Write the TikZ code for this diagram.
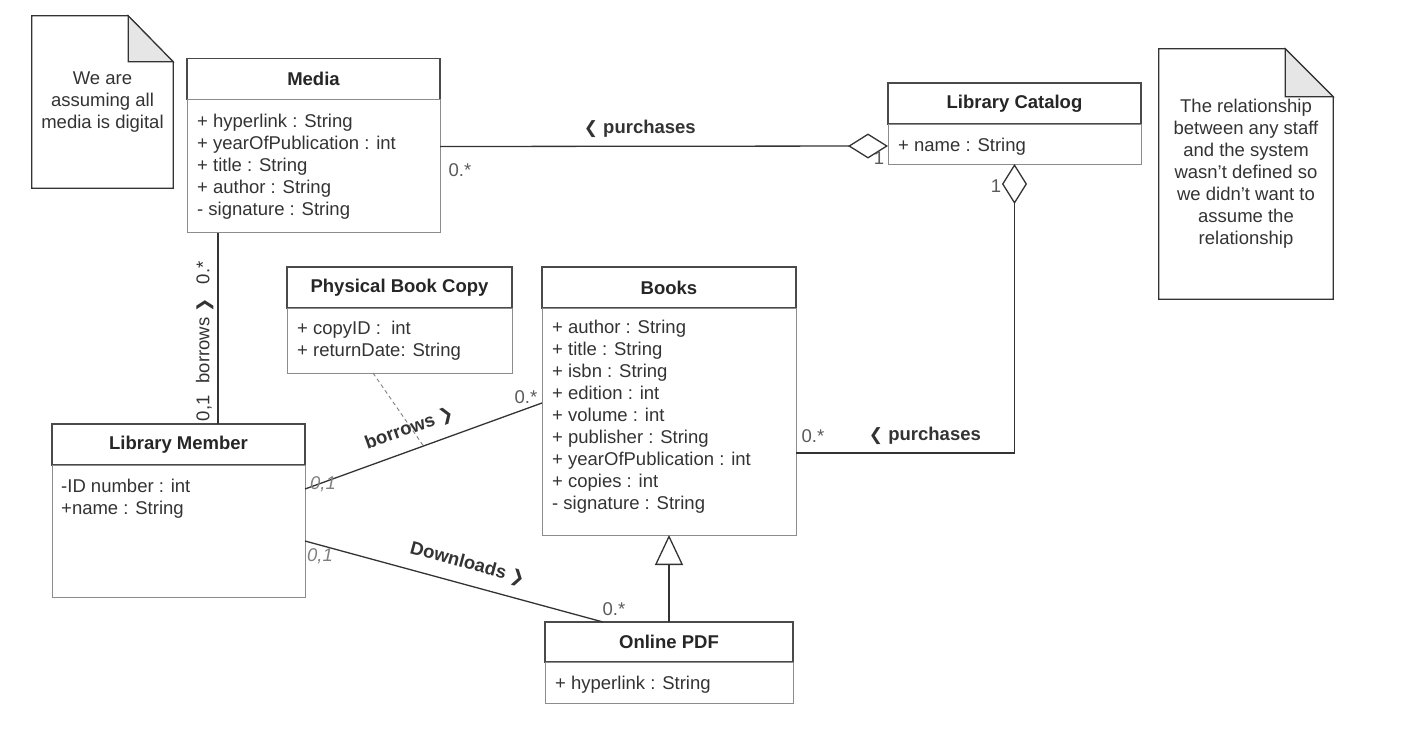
\documentclass[tikz,border=0pt]{standalone}
\usepackage{fontspec}
\setmainfont{Liberation Sans}
\newfontfamily\chevfont{DejaVu Sans}
\usetikzlibrary{positioning, arrows.meta}
\definecolor{ink}{HTML}{333333}
\definecolor{frame}{HTML}{4a4a4a}
\definecolor{framelt}{HTML}{8c8c8c}
\definecolor{multc}{HTML}{5a5a5a}
\definecolor{foldc}{HTML}{e6e6e6}
\newcommand{\basefont}{\fontsize{18.5}{22}\selectfont}
\newcommand{\chevl}{{\chevfont\fontsize{17}{22}\selectfont ❮}}
\newcommand{\chevr}{{\chevfont\fontsize{17}{22}\selectfont ❯}}
\tikzset{
  cls/.style={draw=frame, line width=1.2pt, rectangle, fill=white, font=\basefont\bfseries, text=black!85,
    minimum height=41pt, inner sep=0pt, outer sep=0pt},
  body/.style={draw=framelt, line width=1pt, rectangle, inner sep=0pt, outer sep=0pt},
  attr/.style={align=left, inner sep=0pt, text=ink, font=\basefont},
  assoc/.style={draw=ink, line width=1.3pt},
  agg/.style={assoc, -{Diamond[open, length=40pt, width=25pt]}},
  gen/.style={assoc, -{Triangle[open, length=30pt, width=28pt]}},
  link/.style={draw=gray, line width=0.9pt, dash pattern=on 4pt off 3pt},
  lbl/.style={font=\basefont\bfseries, text=ink, inner sep=2pt},
  vlbl/.style={font=\basefont, text=ink, inner sep=2pt},
  mult/.style={font=\basefont, text=multc, inner sep=0pt},
  optmult/.style={font=\basefont\itshape, text=gray, inner sep=0pt},
  notebox/.style={draw=ink, line width=1.2pt},
  notefold/.style={draw=ink, line width=1.2pt, fill=foldc},
  notetext/.style={align=center, text=ink, font=\basefont, inner sep=0pt},
}

\begin{document}
\begin{tikzpicture}[x=1pt, y=-1pt]
  \useasboundingbox (0,0) rectangle (1409,739);
  % notes
  \node[notetext, minimum width=141pt, minimum height=172pt] (note-media) at (102.5,102) {We are\\assuming all\\media is digital};
  \draw[notebox] (note-media.south west) |- ([xshift=-45pt]note-media.north east) -- ([yshift=-46pt]note-media.north east) -- (note-media.south east) -- cycle;
  \draw[notefold] ([xshift=-45pt]note-media.north east) |- ([yshift=-46pt]note-media.north east) -- cycle;
  \node[notetext, minimum width=174pt, minimum height=250pt] (note-staff) at (1246,174) {The relationship\\between any staff\\and the system\\wasn't defined so\\we didn't want to\\assume the\\relationship};
  \draw[notebox] (note-staff.south west) |- ([xshift=-48pt]note-staff.north east) -- ([yshift=-48pt]note-staff.north east) -- (note-staff.south east) -- cycle;
  \draw[notefold] ([xshift=-48pt]note-staff.north east) |- ([yshift=-48pt]note-staff.north east) -- cycle;
  % classes
  \node[cls, minimum width=253pt] (media) at (313.5,79) {Media};
  \node[body, minimum width=253pt, minimum height=133pt, below=0pt of media] (media-body) {};
  \node[attr, below right=14pt and 10pt of media-body.north west] (media-attr) {+ hyperlink : String\\+ yearOfPublication : int\\+ title : String\\+ author : String\\- signature : String};

  \node[cls, minimum width=253pt] (catalog) at (1014.5,103.5) {Library Catalog};
  \node[body, minimum width=253pt, minimum height=40pt, below=0pt of catalog] (catalog-body) {};
  \node[attr, below right=14pt and 10pt of catalog-body.north west] (catalog-attr) {+ name : String};

  \node[cls, minimum width=225pt] (copy) at (399.5,287.5) {Physical Book Copy};
  \node[body, minimum width=225pt, minimum height=65pt, below=0pt of copy] (copy-body) {};
  \node[attr, below right=13pt and 10pt of copy-body.north west] (copy-attr) {+ copyID : \ int\\+ returnDate: String};

  \node[cls, minimum width=254pt] (books) at (669,287.5) {Books};
  \node[body, minimum width=254pt, minimum height=227pt, below=0pt of books] (books-body) {};
  \node[attr, below right=12pt and 10pt of books-body.north west] (books-attr) {+ author : String\\+ title : String\\+ isbn : String\\+ edition : int\\+ volume : int\\+ publisher : String\\+ yearOfPublication : int\\+ copies : int\\- signature : String};

  \node[cls, minimum width=253pt] (member) at (178.5,444.5) {Library Member};
  \node[body, minimum width=253pt, minimum height=132pt, below=0pt of member] (member-body) {};
  \node[attr, below right=14pt and 9pt of member-body.north west] (member-attr) {-ID number : int\\+name : String};

  \node[cls, minimum width=248pt, minimum height=40pt] (pdf) at (669,642) {Online PDF};
  \node[body, minimum width=248pt, minimum height=41pt, below=0pt of pdf] (pdf-body) {};
  \node[attr, below right=14pt and 10pt of pdf-body.north west] (pdf-attr) {+ hyperlink : String};

  % relations
  \draw[agg] ([yshift=-47pt]media-body.north east) -- node[lbl, above=6pt, pos=0.446] (buy-media) {\chevl\ purchases} ([yshift=-22pt]catalog-body.north west);
  \draw[agg] ([yshift=-145pt]books-body.north east) -| node[lbl, above=6pt, pos=0.295] (buy-books) {\chevl\ purchases} (catalog-body.south);
  \path (media-body.south west) ++(31pt,0pt) coordinate (media-foot);
  \draw[assoc] (media-foot |- member.north) -- node[vlbl, sloped, above=2pt, pos=0.432] (lend-media) {0,1\hspace{12pt}borrows \chevr\hspace{14pt}0.*} (media-foot);
  \draw[assoc] ([yshift=-24pt]member-body.north east) -- node[lbl, sloped, above=9pt, pos=0.47] (lend-books) {borrows \chevr} coordinate[pos=0.5] (lend-mid) ([yshift=-95pt]books-body.north west);
  \draw[link] ([xshift=86pt]copy-body.south west) -- (lend-mid);
  \draw[assoc] ([yshift=-76pt]member-body.north east) -- node[lbl, sloped, above=9pt, pos=0.527] (load-pdf) {Downloads \chevr} ([xshift=58pt]pdf.north west);
  \draw[gen] (pdf.north) -- (books-body.south);
  % multiplicities
  \node[mult] (m-media) at (460,170) {0.*};
  \node[mult] (m-catalog-1) at (879,158) {1};
  \node[mult] (m-catalog-2) at (996,186) {1};
  \node[mult] (m-books-1) at (813,436) {0.*};
  \node[mult] (m-books-2) at (526,397) {0.*};
  \node[mult] (m-pdf) at (614,609) {0.*};
  \node[optmult] (m-member-1) at (323,484) {0,1};
  \node[optmult] (m-member-2) at (320,556) {0,1};
\end{tikzpicture}
\end{document}
